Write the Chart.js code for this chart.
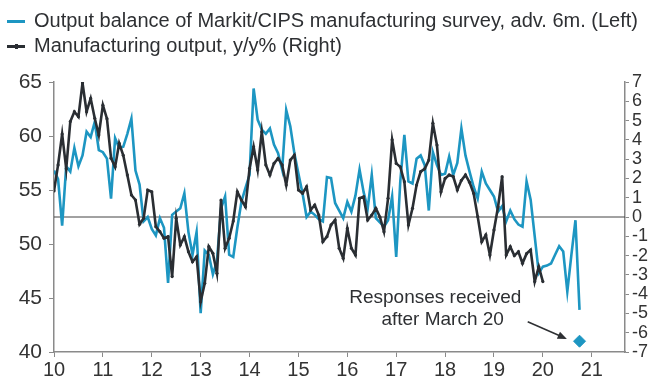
<!DOCTYPE html>
<html>
<head>
<meta charset="UTF-8">
<script src="https://cdn.jsdelivr.net/npm/chart.js@4.4.0/dist/chart.umd.min.js"></script>
<style>
	body { margin: 0; background: #fff; }
	#wrap { position: relative; width: 658px; height: 376px; }
	.leg { position: absolute; left: 0; font-family: "Liberation Sans", Arial, sans-serif; font-size: 20px; color: #2e3033; white-space: nowrap; }
	.leg .swatch { display: inline-block; position: relative; width: 18px; height: 3px; vertical-align: middle; margin: 0 9px 0 7px; }
	.leg .dot { position: absolute; left: 8px; top: -1px; width: 3px; height: 5px; background: #2a2e33; }
</style>
<script>
	// monthly, starting Jan 2010
	var startYear = 2010;
	var surveyBalance = [
		56.8, 56.0, 51.7, 57.2, 56.7, 58.9, 57.2, 58.2, 60.4, 59.9, 61.3, 58.7,
		58.5, 57.9, 54.2, 59.8, 58.9, 59.0, 60.2, 61.6, 56.8, 55.5, 52.1, 52.5,
		51.4, 50.8, 52.4, 51.5, 46.4, 52.7, 53.0, 53.3, 54.7, 51.1, 49.0, 51.1,
		43.6, 49.4, 49.0, 47.2, 48.4, 53.3, 54.4, 49.0, 48.8, 51.5, 53.9, 55.2,
		56.4, 64.4, 61.5, 60.6, 60.2, 60.7, 59.2, 58.4, 56.9, 62.4, 60.9, 58.4,
		56.5, 54.7, 52.5, 53.0, 52.7, 52.3, 52.1, 56.2, 56.1, 53.8, 53.1, 52.4,
		53.9, 53.0, 54.5, 56.9, 54.8, 53.3, 56.4, 52.4, 52.0, 51.6, 52.2, 54.4,
		48.8, 55.8, 60.1, 55.8, 55.6, 57.9, 58.2, 57.3, 53.1, 58.5, 57.3, 56.4,
		56.5, 58.1, 56.4, 57.5, 60.7, 58.2, 56.7, 55.3, 54.2, 56.7, 55.6, 55.0,
		54.4, 53.0, 53.5, 52.1, 53.1, 52.3, 51.8, 51.6, 55.8, 54.1, 50.7, 47.3,
		47.9, 48.0, 48.2, 49.0, 49.8, 49.3, 45.6, 49.0, 52.2, 43.9
	];
	var mfgOutput = [
		1.35, 2.7, 4.3, 2.5, 4.95, 5.46, 5.2, 6.95, 5.46, 6.15, 5.12, 4.25,
		5.8, 5.1, 3.05, 2.6, 3.82, 3.2, 2.18, 1.14, 0.88, -0.38, -0.07, 1.4,
		1.31, -0.5, -0.76, -1.1, -1.02, -3.09, -0.07, -1.45, -1.02, -1.8, -2.32, -2.06,
		-4.39, -3.44, -1.54, -1.88, -2.92, 0.88, -1.62, -1.1, -0.21, 1.31, 0.88, 0.53,
		2.52, 3.64, 2.44, 4.42, 2.7, 2.18, 2.78, 3.04, 2.7, 1.66, 2.95, 3.21,
		1.4, 1.23, 1.57, 0.36, 0.62, 0.1, -1.28, -1.02, -0.41, -0.16, -1.62, -2.14,
		-0.59, -1.62, -1.97, 0.97, 1.05, -0.16, 0.1, 0.45, 0.0, -0.76, 0.97, 4.0,
		2.78, 2.6, 1.83, -0.41, 0.45, 1.66, 2.35, 2.5, 2.95, 4.86, 3.73, 1.31,
		2.0, 2.18, 2.1, 1.4, 1.9, 2.18, 1.8, 1.23, 0.02, -1.28, -0.93, -1.97,
		-0.67, 0.53, 2.09, -1.97, -1.54, -2.0, -1.8, -2.4, -1.9, -1.71, -3.35, -2.58,
		-3.35
	];
	// late responses point (month index from Jan 2010, value on left axis)
	var lateMonth = [129];
	var lateValue = [41.0];
	var xTicks = [2010, 2011, 2012, 2013, 2014, 2015, 2016, 2017, 2018, 2019, 2020, 2021];
	var leftTicks = [40, 45, 50, 55, 60, 65];
	var rightTicks = [-7, -6, -5, -4, -3, -2, -1, 0, 1, 2, 3, 4, 5, 6, 7];
	var noteLines = ['Responses received', 'after March 20'];

	function toPoints(arr) {
		return arr.map(function (v, i) { return { x: startYear + i / 12, y: v }; });
	}
</script>
</head>
<body>
<div id="wrap">
	<canvas id="chart" width="658" height="376"></canvas>
	<div class="leg" style="top: 9px;"><span class="swatch" style="background:#1d96c2;"></span>Output balance of Markit/CIPS manufacturing survey, adv. 6m. (Left)</div>
	<div class="leg" style="top: 34px;"><span class="swatch" style="background:#2a2e33;"><span class="dot"></span></span>Manufacturing output, y/y% (Right)</div>
</div>
<script>
	var blue = '#1d96c2';
	var dark = '#2a2e33';
	var axisGray = '#8a8a8a';
	var fam = '"Liberation Sans", Arial, sans-serif';

	// zero line + note + arrow
	var extras = {
		id: 'extras',
		beforeDatasetsDraw: function (chart) {
			var ctx = chart.ctx, a = chart.chartArea;
			var y0 = chart.scales.yR.getPixelForValue(0);
			ctx.save();
			ctx.strokeStyle = '#444';
			ctx.lineWidth = 1;
			ctx.beginPath();
			ctx.moveTo(a.left, y0);
			ctx.lineTo(a.right, y0);
			ctx.stroke();
			ctx.restore();
		},
		afterDatasetsDraw: function (chart) {
			var ctx = chart.ctx;
			var sx = chart.scales.x, sy = chart.scales.y;
			ctx.save();
			ctx.fillStyle = '#2e3033';
			ctx.font = '19px ' + fam;
			ctx.textAlign = 'center';
			ctx.textBaseline = 'middle';
			ctx.fillText(noteLines[0], sx.getPixelForValue(2017.8), sy.getPixelForValue(45.0));
			ctx.fillText(noteLines[1], sx.getPixelForValue(2017.95), sy.getPixelForValue(43.0));

			// arrow
			var x1 = sx.getPixelForValue(2019.69), y1 = sy.getPixelForValue(42.8);
			var x2 = sx.getPixelForValue(2020.45), y2 = sy.getPixelForValue(41.3);
			ctx.strokeStyle = '#2e3033';
			ctx.fillStyle = '#2e3033';
			ctx.lineWidth = 1.5;
			ctx.beginPath();
			ctx.moveTo(x1, y1);
			ctx.lineTo(x2, y2);
			ctx.stroke();
			var ang = Math.atan2(y2 - y1, x2 - x1);
			ctx.beginPath();
			ctx.moveTo(x2 + 2, y2 + 1);
			ctx.lineTo(x2 + 2 - 10 * Math.cos(ang - 0.4), y2 + 1 - 10 * Math.sin(ang - 0.4));
			ctx.lineTo(x2 + 2 - 10 * Math.cos(ang + 0.4), y2 + 1 - 10 * Math.sin(ang + 0.4));
			ctx.closePath();
			ctx.fill();
			ctx.restore();
		}
	};

	var ctx = document.getElementById('chart').getContext('2d');
	var myChart = new Chart(ctx, {
		type: 'line',
		data: {
			datasets: [{
				label: 'Late responses',
				data: lateMonth.map(function (m, i) { return { x: startYear + m / 12, y: lateValue[i] }; }),
				yAxisID: 'y',
				showLine: false,
				pointStyle: 'rectRot',
				pointRadius: 6,
				backgroundColor: blue,
				borderColor: blue,
				order: 0
			}, {
				label: 'Manufacturing output, y/y% (Right)',
				data: toPoints(mfgOutput),
				yAxisID: 'yR',
				borderColor: dark,
				backgroundColor: dark,
				borderWidth: 2.6,
				pointRadius: 1.6,
				pointBorderWidth: 0,
				tension: 0,
				order: 1
			}, {
				label: 'Output balance of Markit/CIPS manufacturing survey, adv. 6m. (Left)',
				data: toPoints(surveyBalance),
				yAxisID: 'y',
				borderColor: blue,
				backgroundColor: blue,
				borderWidth: 2.6,
				pointRadius: 0,
				tension: 0,
				order: 2
			}]
		},
		options: {
			responsive: false,
			animation: false,
			layout: { padding: { top: 82, left: 0, right: 0, bottom: 0 } },
			plugins: { legend: { display: false }, tooltip: { enabled: false } },
			scales: {
				x: {
					type: 'linear',
					min: 2010,
					max: 2021.68,
					afterBuildTicks: function (s) {
						s.ticks = xTicks.map(function (v) { return { value: v }; });
					},
					ticks: {
						color: '#333',
						font: { family: fam, size: 20 },
						padding: 1,
						maxRotation: 0,
						autoSkip: false,
						callback: function (v) { return String(v - 2000); }
					},
					grid: { drawOnChartArea: false, color: axisGray, tickLength: 5 },
					border: { color: axisGray, width: 1.5 },
					afterFit: function (s) { s.height = 24; }
				},
				y: {
					position: 'left',
					min: 40,
					max: 65,
					afterBuildTicks: function (s) {
						s.ticks = leftTicks.map(function (v) { return { value: v }; });
					},
					ticks: { color: '#333', font: { family: fam, size: 21 }, padding: 7, autoSkip: false },
					grid: { drawOnChartArea: false, color: axisGray, tickLength: 5 },
					border: { color: axisGray, width: 1.5 },
					afterFit: function (s) { s.width = 54; }
				},
				yR: {
					position: 'right',
					min: -7,
					max: 7,
					afterBuildTicks: function (s) {
						s.ticks = rightTicks.map(function (v) { return { value: v }; });
					},
					ticks: { color: '#333', font: { family: fam, size: 18 }, padding: 3, autoSkip: false },
					grid: { drawOnChartArea: false, color: axisGray, tickLength: 4 },
					border: { color: axisGray, width: 1.5 },
					afterFit: function (s) { s.width = 33; }
				}
			}
		},
		plugins: [extras]
	});
</script>
</body>
</html>
